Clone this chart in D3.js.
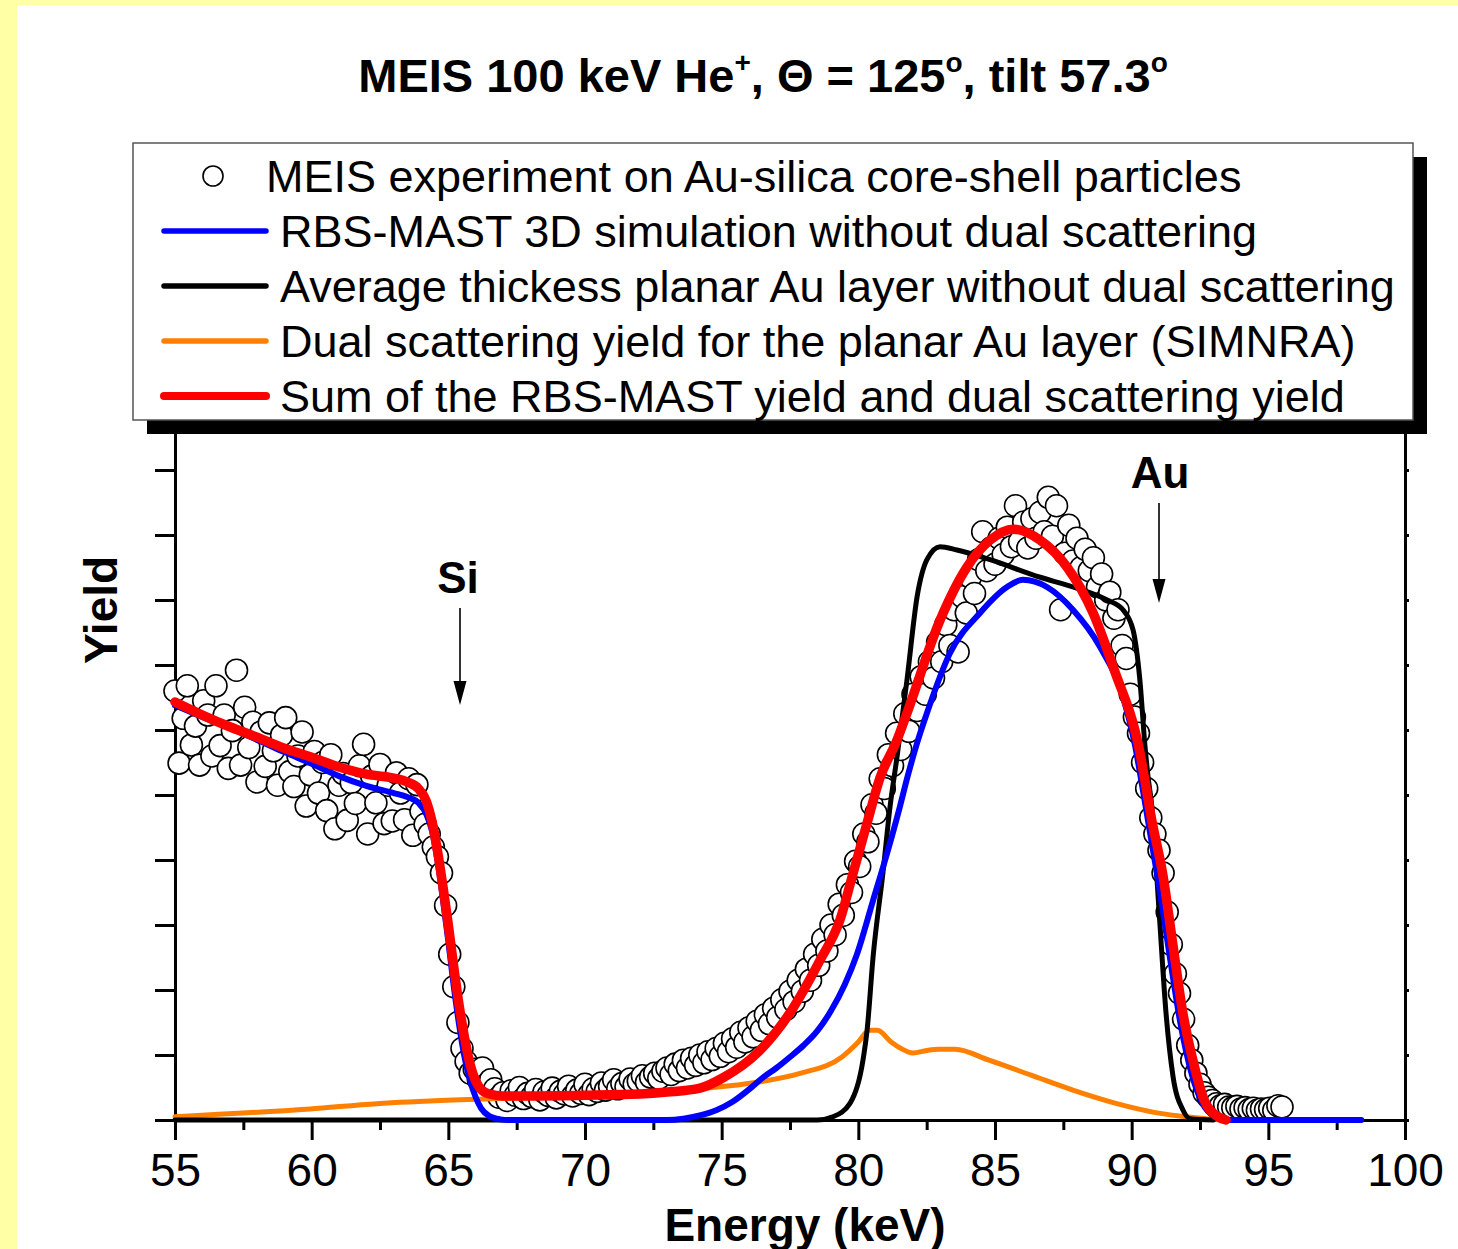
<!DOCTYPE html>
<html><head><meta charset="utf-8">
<script src="https://cdn.jsdelivr.net/npm/d3@7"></script>
<style>html,body{margin:0;padding:0;background:#ffffa6;} svg{display:block;font-family:"Liberation Sans",Arial,Helvetica,sans-serif;}</style>
</head><body><svg id="c" width="1458" height="1249"></svg>
<script>
// ---------------- data ----------------
const titleText = "MEIS 100 keV He";
const xTickValues = [55,60,65,70,75,80,85,90,95,100];
const xMinorTickValues = [57.5,62.5,67.5,72.5,77.5,82.5,87.5,92.5,97.5];
const yTickValues = [0,1,2,3,4,5,6,7,8,9,10];
const legendLabels = [
  "MEIS experiment on Au-silica core-shell particles",
  "RBS-MAST 3D simulation without dual scattering",
  "Average thickess planar Au layer without dual scattering",
  "Dual scattering yield for the planar Au layer (SIMNRA)",
  "Sum of the RBS-MAST yield and dual scattering yield"
];
// experiment: [energy keV, yield (a.u.)]
const expData = [
[55.00,6.60],[55.15,5.49],[55.30,6.18],[55.45,6.68],[55.60,5.77],[55.75,6.06],[55.90,5.46],[56.05,6.45],[56.20,6.23],[56.35,5.60],
[56.50,6.68],[56.65,5.76],[56.80,6.23],[56.95,5.41],[57.10,5.99],[57.25,6.92],[57.40,5.46],[57.55,6.35],[57.70,5.73],[57.85,6.12],
[58.00,5.20],[58.15,5.97],[58.30,5.44],[58.45,6.11],[58.60,5.68],[58.75,5.15],[58.90,5.92],[59.05,6.19],[59.20,5.36],[59.35,5.13],
[59.50,5.60],[59.65,5.97],[59.80,4.83],[59.95,5.31],[60.10,5.67],[60.25,5.03],[60.40,5.50],[60.55,4.76],[60.70,5.62],[60.85,4.48],
[61.00,5.15],[61.15,5.33],[61.30,4.61],[61.45,5.19],[61.60,4.87],[61.75,5.45],[61.90,5.78],[62.05,4.40],[62.20,5.29],[62.35,4.88],
[62.50,5.47],[62.65,4.56],[62.80,5.15],[62.95,4.60],[63.10,5.34],[63.25,5.03],[63.40,4.62],[63.55,5.25],[63.70,4.38],[63.85,5.16],
[64.00,4.75],[64.15,4.55],[64.30,4.40],[64.45,4.20],[64.60,4.05],[64.75,3.80],[64.90,3.30],[65.05,2.55],[65.20,2.05],[65.35,1.50],
[65.50,1.10],[65.65,0.90],[65.80,0.72],[65.95,0.78],[66.10,0.62],[66.25,0.80],[66.40,0.55],[66.55,0.62],
[66.70,0.48],[66.85,0.35],[67.00,0.42],[67.15,0.30],[67.30,0.45],[67.45,0.38],[67.60,0.50],[67.75,0.33],[67.90,0.41],[68.05,0.36],
[68.20,0.47],[68.35,0.31],[68.50,0.43],[68.65,0.38],[68.80,0.49],[68.95,0.34],[69.10,0.44],[69.25,0.40],[69.40,0.52],[69.55,0.37],
[69.70,0.46],[69.85,0.41],[70.00,0.55],[70.15,0.39],[70.30,0.48],[70.45,0.44],[70.60,0.57],[70.75,0.46],[70.90,0.52],[71.05,0.62],
[71.20,0.48],[71.35,0.56],[71.50,0.51],[71.65,0.63],[71.80,0.55],[71.95,0.60],[72.10,0.68],[72.25,0.58],[72.40,0.66],[72.55,0.72],
[72.70,0.64],[72.85,0.75],
[73.00,0.80],[73.15,0.70],[73.30,0.86],[73.45,0.76],[73.60,0.92],[73.75,0.80],[73.90,0.95],[74.05,0.84],[74.20,1.00],[74.35,0.88],
[74.50,1.05],[74.65,0.93],[74.80,1.10],[74.95,0.98],[75.10,1.18],[75.25,1.05],[75.40,1.25],[75.55,1.12],[75.70,1.35],[75.85,1.20],
[76.00,1.42],[76.15,1.28],[76.30,1.52],[76.45,1.38],[76.60,1.62],[76.75,1.48],[76.90,1.72],[77.05,1.58],[77.20,1.85],[77.35,1.70],
[77.50,1.98],[77.65,1.82],[77.80,2.15],[77.95,1.98],[78.10,2.32],[78.25,2.15],[78.40,2.55],[78.55,2.38],[78.70,2.78],[78.85,2.60],
[79.00,3.00],[79.15,2.85],[79.30,3.32],[79.45,3.15],[79.60,3.62],[79.75,3.50],[79.90,3.98],[80.05,3.90],[80.20,4.40],[80.35,4.28],
[80.50,4.85],[80.65,4.72],[80.80,5.25],[80.95,5.10],[81.10,5.62],[81.25,5.45],[81.40,5.95],[81.55,5.70],[81.70,6.25],[81.85,5.98],
[82.00,6.55],[82.15,6.30],[82.30,6.82],[82.45,6.55],[82.60,7.05],[82.75,6.80],[82.90,7.35],[83.05,7.05],[83.20,7.62],[83.35,7.30],
[83.50,7.85],[83.65,7.20],[83.80,8.05],[83.95,7.80],[84.10,8.35],[84.25,8.10],[84.40,8.62],[84.55,9.05],[84.70,8.45],[84.85,8.80],
[85.00,8.55],[85.15,8.95],[85.30,8.70],[85.45,9.12],[85.60,8.82],[85.75,9.45],[85.90,8.90],[86.05,9.20],[86.20,8.80],[86.35,9.25],
[86.50,8.95],[86.65,9.35],[86.80,9.05],[86.95,9.58],[87.10,8.98],[87.25,9.45],[87.40,7.85],[87.55,8.72],[87.70,9.15],[87.85,8.60],
[88.00,8.95],[88.15,8.50],[88.30,8.78],[88.45,8.45],[88.60,8.65],[88.75,8.20],[88.90,8.40],[89.05,8.00],[89.20,8.12],[89.35,7.72],
[89.50,7.85],[89.65,7.30],[89.80,7.10],[89.95,6.55],[90.10,6.20],[90.25,5.95],[90.40,5.50],[90.55,5.10],[90.70,4.65],[90.85,4.40],
[91.00,4.15],[91.15,3.80],[91.30,3.20],[91.45,2.70],[91.60,2.25],[91.75,1.95],[91.90,1.55],[92.05,1.15],[92.20,0.92],[92.35,0.72],
[92.50,0.55],[92.65,0.42],[92.80,0.35],[92.95,0.30],[93.10,0.25],[93.25,0.22],[93.40,0.24],[93.55,0.20],[93.70,0.19],[93.85,0.21],
[94.00,0.17],[94.15,0.19],[94.30,0.16],[94.45,0.18],[94.60,0.15],[94.75,0.17],[94.90,0.16],[95.05,0.18],[95.20,0.15],[95.35,0.22],
[95.50,0.20]
];
// RBS-MAST 3D simulation (blue)
const blueLine = [
[55.0,6.38],[56.0,6.20],[57.0,6.03],[58.0,5.85],[59.0,5.66],[60.0,5.48],[61.0,5.29],[62.0,5.14],[63.0,5.03],[63.5,4.97],
[63.9,4.88],[64.2,4.70],[64.4,4.45],[64.6,4.00],[64.8,3.40],[65.0,2.75],[65.2,2.05],[65.4,1.45],[65.6,0.95],[65.8,0.60],
[66.0,0.35],[66.2,0.18],[66.5,0.06],[66.9,0.01],[67.2,0.00],[73.0,0.00],[73.6,0.02],[74.2,0.07],[74.8,0.15],[75.4,0.28],
[76.0,0.47],[76.5,0.65],[77.0,0.80],[77.5,0.97],[78.0,1.15],[78.5,1.37],[79.0,1.68],[79.5,2.08],[79.95,2.55],[80.54,3.38],
[81.05,4.10],[81.52,4.82],[81.78,5.25],[82.15,5.80],[82.51,6.26],[83.35,7.18],[84.45,7.80],[85.44,8.20],[86.02,8.31],[86.90,8.20],
[87.85,7.85],[88.84,7.28],[89.68,6.51],[90.12,5.77],[90.30,5.35],[90.60,4.60],[91.00,3.60],[91.40,2.50],[91.80,1.45],[92.20,0.70],
[92.60,0.25],[93.00,0.06],[93.40,0.00],[98.4,0.00]
];
// planar Au layer (black)
const blackLine = [
[55.0,0.00],[78.5,0.00],[79.07,0.05],[79.70,0.26],[80.17,0.92],[80.32,1.38],[80.54,2.51],[80.90,3.80],[81.16,4.82],[81.42,5.60],
[81.78,6.77],[82.15,8.05],[82.51,8.62],[82.99,8.82],[83.61,8.77],[84.82,8.62],[86.65,8.35],[87.85,8.20],[89.10,8.00],[89.68,7.85],
[90.05,7.54],[90.30,6.77],[90.49,5.74],[90.60,5.28],[90.74,4.82],[91.00,3.23],[91.26,1.63],[91.51,0.68],[91.88,0.15],[92.13,0.02],
[93.0,0.00]
];
// dual scattering yield (orange)
const orangeLine = [
[55.0,0.05],[59.94,0.17],[62.39,0.25],[65.43,0.31],[68.35,0.35],[72.01,0.42],[74.46,0.49],[76.29,0.58],[77.90,0.72],[79.40,0.97],
[80.00,1.20],[80.40,1.38],[80.70,1.38],[81.20,1.20],[81.56,1.10],[82.00,1.03],[82.50,1.07],[82.95,1.09],[83.54,1.09],[84.78,0.92],
[86.32,0.69],[87.85,0.46],[89.39,0.26],[90.93,0.11],[92.46,0.03],[92.94,0.01],[93.3,0.00]
];
// sum (red)
const redLine = [
[55.0,6.43],[56.0,6.23],[57.0,6.05],[58.0,5.89],[59.0,5.72],[60.0,5.58],[61.0,5.43],[62.0,5.32],[63.0,5.26],[63.5,5.20],
[63.9,5.10],[64.2,4.90],[64.4,4.60],[64.6,4.15],[64.8,3.60],[65.0,3.00],[65.2,2.35],[65.4,1.75],[65.6,1.25],[65.8,0.85],
[66.0,0.60],[66.2,0.47],[66.5,0.40],[67.0,0.37],[68.0,0.37],[70.0,0.38],[72.0,0.40],[73.0,0.43],[74.21,0.49],[75.05,0.65],
[76.35,1.05],[77.50,1.65],[78.60,2.46],[79.33,3.08],[79.81,3.80],[80.32,4.57],[80.79,5.26],[81.42,5.85],[81.78,6.26],[82.99,7.69],
[83.98,8.51],[84.82,8.92],[85.66,9.09],[86.65,8.92],[87.63,8.51],[88.59,7.80],[89.35,6.94],[90.27,5.72],[90.74,4.60],[91.15,3.75],
[91.51,2.69],[91.88,1.63],[92.28,0.85],[92.65,0.31],[93.16,0.05],[93.45,0.00]
];

// ---------------- drawing ----------------
const svg = d3.select("#c");
svg.append("rect").attr("x",0).attr("y",0).attr("width",1458).attr("height",1249).attr("fill","#ffffa6");
svg.append("rect").attr("x",17).attr("y",5).attr("width",1441).attr("height",1244).attr("fill","#ffffff");

const x = d3.scaleLinear().domain([55,100]).range([175,1405]);
const y = d3.scaleLinear().domain([0,11]).range([1120,405]);

// title
const title = svg.append("text").attr("x",763).attr("y",92).attr("text-anchor","middle")
  .attr("font-size",47).attr("font-weight","bold").attr("fill","#000");
title.append("tspan").text(titleText);
title.append("tspan").attr("font-size",28).attr("dy",-20).text("+");
title.append("tspan").attr("dy",20).text(", \u0398 = 125");
title.append("tspan").attr("font-size",28).attr("dy",-20).text("o");
title.append("tspan").attr("dy",20).text(", tilt 57.3");
title.append("tspan").attr("font-size",28).attr("dy",-20).text("o");

// axes
const gx = svg.append("g").attr("transform","translate(0,1120)")
  .call(d3.axisBottom(x).tickValues(xTickValues).tickSize(20).tickSizeOuter(0).tickPadding(13).tickFormat(d3.format("d")));
const gxm = svg.append("g").attr("transform","translate(0,1120)")
  .call(d3.axisBottom(x).tickValues(xMinorTickValues).tickSize(10).tickSizeOuter(0).tickFormat(""));
const gy = svg.append("g").attr("transform","translate(175,0)")
  .call(d3.axisLeft(y).tickValues(yTickValues).tickSize(20).tickSizeOuter(0).tickFormat(""));
const gyr = svg.append("g").attr("transform","translate(1405,0)")
  .call(d3.axisRight(y).tickValues(yTickValues).tickSize(4).tickSizeOuter(0).tickFormat(""));
[gx,gxm,gy,gyr].forEach(g=>{
  g.selectAll("path.domain").attr("stroke","#000").attr("stroke-width",3);
  g.selectAll(".tick line").attr("stroke","#000").attr("stroke-width",3);
});
gx.selectAll(".tick text").attr("font-size",46).attr("font-family","Liberation Sans, Arial, sans-serif").attr("fill","#000");
// top frame (mostly under legend)
svg.append("line").attr("x1",175).attr("x2",1405).attr("y1",405).attr("y2",405).attr("stroke","#000").attr("stroke-width",3);

// axis titles
svg.append("text").attr("x",805).attr("y",1241).attr("text-anchor","middle").attr("font-size",46)
  .attr("font-weight","bold").text("Energy (keV)");
svg.append("text").attr("transform","translate(117,610) rotate(-90)").attr("text-anchor","middle")
  .attr("font-size",46).attr("font-weight","bold").text("Yield");

// experiment scatter
svg.append("g").selectAll("circle").data(expData).join("circle")
  .attr("cx",d=>x(d[0])).attr("cy",d=>y(d[1])).attr("r",11)
  .attr("fill","#fff").attr("stroke","#000").attr("stroke-width",1.6);

const line = d3.line().x(d=>x(d[0])).y(d=>y(d[1])).curve(d3.curveMonotoneX);
const series = [
  {data: orangeLine, color:"#ff8000", w:5},
  {data: blackLine, color:"#000000", w:5},
  {data: blueLine, color:"#0000ff", w:6},
  {data: redLine, color:"#ff0000", w:9.5}
];
series.forEach(s=>{
  svg.append("path").attr("d",line(s.data)).attr("fill","none").attr("stroke",s.color)
    .attr("stroke-width",s.w).attr("stroke-linejoin","round").attr("stroke-linecap","round");
});

// annotations
function arrow(cx, y0, y1){
  svg.append("line").attr("x1",cx).attr("x2",cx).attr("y1",y0).attr("y2",y1-20).attr("stroke","#000").attr("stroke-width",1.6);
  svg.append("path").attr("d",`M${cx-6.5},${y1-24}L${cx+6.5},${y1-24}L${cx},${y1}Z`).attr("fill","#000");
}
svg.append("text").attr("x",458).attr("y",593).attr("text-anchor","middle").attr("font-size",44).attr("font-weight","bold").text("Si");
arrow(460,608,705);
svg.append("text").attr("x",1160).attr("y",488).attr("text-anchor","middle").attr("font-size",44).attr("font-weight","bold").text("Au");
arrow(1159,503,603);

// legend
const lg = svg.append("g");
lg.append("rect").attr("x",147).attr("y",157).attr("width",1280).attr("height",277).attr("fill","#000");
lg.append("rect").attr("x",133).attr("y",143).attr("width",1280).attr("height",277).attr("fill","#fff")
  .attr("stroke","#555").attr("stroke-width",1.5);
lg.append("circle").attr("cx",213).attr("cy",176).attr("r",10).attr("fill","#fff").attr("stroke","#000").attr("stroke-width",1.6);
lg.append("text").attr("x",266).attr("y",192).attr("font-size",45).text(legendLabels[0]);
const legLines = [{c:"#0000ff",w:5.5},{c:"#000000",w:5.5},{c:"#ff8000",w:5.5},{c:"#ff0000",w:8}];
legLines.forEach((l,i)=>{
  const cy = 231 + i*55;
  lg.append("line").attr("x1",164).attr("x2",266).attr("y1",cy).attr("y2",cy).attr("stroke",l.c)
    .attr("stroke-width",l.w).attr("stroke-linecap","round");
  lg.append("text").attr("x",280).attr("y",cy+16).attr("font-size",45).text(legendLabels[i+1]);
});
</script></body></html>
